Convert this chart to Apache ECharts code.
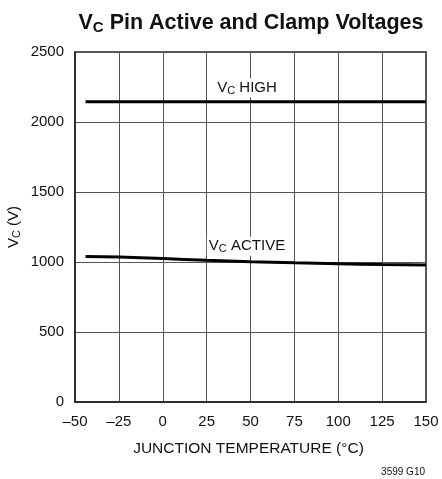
<!DOCTYPE html>
<html>
<head>
<meta charset="utf-8">
<script src="https://cdn.jsdelivr.net/npm/echarts@6/dist/echarts.min.js"></script>
<style>html,body{margin:0;padding:0;background:#fff}#c{width:442px;height:479px}</style>
</head>
<body>
<div id="c"></div>
<script>
var xTicks = [-50, -25, 0, 25, 50, 75, 100, 125, 150];
var yTicks = [0, 500, 1000, 1500, 2000, 2500];
var tempHigh = [-44, 150];
var vcHigh = [2145, 2145];
var tempActive = [-44, -25, 0, 25, 50, 75, 100, 125, 150];
var vcActive = [1040, 1035, 1025, 1012, 1002, 994, 988, 982, 978];
var labelHigh = {x: 48, y: 2245};
var labelActive = {x: 48, y: 1113};

var FONT = '"Liberation Sans", Arial, sans-serif';
var chart = echarts.init(document.getElementById('c'));
function pairs(xs, ys) { return xs.map(function (x, i) { return [x, ys[i]]; }); }
var subRich = {
  a: {fontFamily: FONT, fontSize: 15, color: '#111'},
  s: {fontFamily: FONT, fontSize: 11, color: '#111', verticalAlign: 'bottom', padding: [6, 0, 0, 0]}
};
chart.setOption({
  animation: false,
  title: {
    text: '{a|V}{s|C}{a| Pin Active and Clamp Voltages}',
    left: 246, textAlign: 'center', top: 6,
    textStyle: {
      rich: {
        a: {fontFamily: FONT, fontSize: 21.5, fontWeight: 'bold', color: '#111'},
        s: {fontFamily: FONT, fontSize: 15, fontWeight: 'bold', color: '#111', padding: [9, 0, 0, 0]}
      }
    }
  },
  graphic: [{
    type: 'text', right: 17, bottom: 2,
    style: {text: '3599 G10', font: '10px ' + FONT, fill: '#111'}
  }],
  grid: {left: 75, right: 16, top: 52, bottom: 77, outerBoundsMode: 'none', containLabel: false,
    show: true, borderColor: '#222', borderWidth: 1.5, backgroundColor: 'transparent'},
  xAxis: {
    type: 'value', min: -50, max: 150, interval: 25,
    name: 'JUNCTION TEMPERATURE (°C)', nameLocation: 'middle', nameGap: 39,
    nameTextStyle: {fontFamily: FONT, fontSize: 15.5, color: '#111', padding: [0, 4, 0, 0]},
    axisLine: {show: true, onZero: false, lineStyle: {color: '#222', width: 1.5}},
    axisTick: {show: false},
    axisLabel: {fontFamily: FONT, fontSize: 15, color: '#111', margin: 12,
      formatter: function (v) { return v < 0 ? '\u2013' + Math.abs(v) : String(v); }},
    splitLine: {show: true, lineStyle: {color: '#555', width: 1}}
  },
  yAxis: {
    type: 'value', min: 0, max: 2500, interval: 500,
    name: '{a|V}{s|C}{a| (V)}', nameLocation: 'middle', nameGap: 53, nameRotate: 90,
    nameMoveOverlap: false,
    nameTextStyle: {rich: subRich},
    axisLine: {show: true, onZero: false, lineStyle: {color: '#222', width: 1.5}},
    axisTick: {show: false},
    axisLabel: {fontFamily: FONT, fontSize: 15, color: '#111', margin: 11,
      formatter: function (v) { return String(v); }},
    splitLine: {show: true, lineStyle: {color: '#555', width: 1}}
  },
  series: [
    {
      type: 'line', data: pairs(tempHigh, vcHigh), symbol: 'none',
      lineStyle: {color: '#000', width: 3},
      markPoint: {
        symbol: 'rect', symbolSize: 0,
        label: {show: true, position: 'inside', backgroundColor: '#fff', padding: [1, 2],
          formatter: '{a|V}{s|C}{a| HIGH}', rich: subRich},
        data: [{coord: [labelHigh.x, labelHigh.y]}]
      }
    },
    {
      type: 'line', data: pairs(tempActive, vcActive), symbol: 'none', smooth: true,
      lineStyle: {color: '#000', width: 3},
      markPoint: {
        symbol: 'rect', symbolSize: 0,
        label: {show: true, position: 'inside', backgroundColor: '#fff', padding: [1, 2],
          formatter: '{a|V}{s|C}{a| ACTIVE}', rich: subRich},
        data: [{coord: [labelActive.x, labelActive.y]}]
      }
    }
  ]
});
</script>
</body>
</html>
